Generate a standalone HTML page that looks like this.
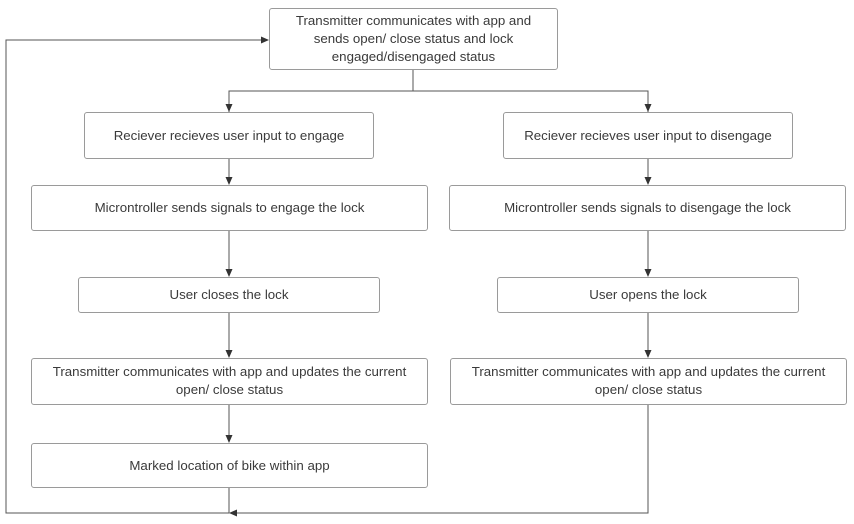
<!DOCTYPE html>
<html><head><meta charset="utf-8"><style>
body{margin:0;background:#fff;}
.b{position:absolute;border:1px solid #9a9a9a;border-radius:3px;background:#fff;display:flex;align-items:center;justify-content:center;text-align:center;font-family:"Liberation Sans",sans-serif;font-size:13.3px;color:#3a3a3a;line-height:18px;box-sizing:border-box;white-space:nowrap;}
</style></head><body>
<div style="position:relative;width:854px;height:524px;overflow:hidden">
<svg width="854" height="524" style="position:absolute;left:0;top:0">
<defs><marker id="a" markerWidth="8" markerHeight="8" refX="7" refY="4" orient="auto" markerUnits="userSpaceOnUse"><path d="M0,0.5 L8,4 L0,7.5Z" fill="#333"/></marker></defs>
<g stroke="#555" stroke-width="1" fill="none">
<path d="M413,70 V91 M229,112 V91 H648 V112" />
<path d="M229,91 V111" marker-end="url(#a)"/>
<path d="M648,91 V111" marker-end="url(#a)"/>
<path d="M229,159 V184" marker-end="url(#a)"/>
<path d="M648,159 V184" marker-end="url(#a)"/>
<path d="M229,231 V276" marker-end="url(#a)"/>
<path d="M648,231 V276" marker-end="url(#a)"/>
<path d="M229,313 V357" marker-end="url(#a)"/>
<path d="M648,313 V357" marker-end="url(#a)"/>
<path d="M229,405 V442" marker-end="url(#a)"/>
<path d="M229,488 V513 H6 V40 H268" marker-end="url(#a)"/>
<path d="M648,405 V513 H230" marker-end="url(#a)"/>
</g></svg>
<div class="b" style="left:269px;top:8px;width:289px;height:62px">Transmitter communicates with app and<br>sends open/ close status and lock<br>engaged/disengaged status</div>
<div class="b" style="left:84px;top:112px;width:290px;height:47px">Reciever recieves user input to engage</div>
<div class="b" style="left:503px;top:112px;width:290px;height:47px">Reciever recieves user input to disengage</div>
<div class="b" style="left:31px;top:185px;width:397px;height:46px">Microntroller sends signals to engage the lock</div>
<div class="b" style="left:449px;top:185px;width:397px;height:46px">Microntroller sends signals to disengage the lock</div>
<div class="b" style="left:78px;top:277px;width:302px;height:36px">User closes the lock</div>
<div class="b" style="left:497px;top:277px;width:302px;height:36px">User opens the lock</div>
<div class="b" style="left:31px;top:358px;width:397px;height:47px;align-items:flex-start;padding-top:4px">Transmitter communicates with app and updates the current<br>open/ close status</div>
<div class="b" style="left:450px;top:358px;width:397px;height:47px;align-items:flex-start;padding-top:4px">Transmitter communicates with app and updates the current<br>open/ close status</div>
<div class="b" style="left:31px;top:443px;width:397px;height:45px">Marked location of bike within app</div>
</div>
</body></html>
